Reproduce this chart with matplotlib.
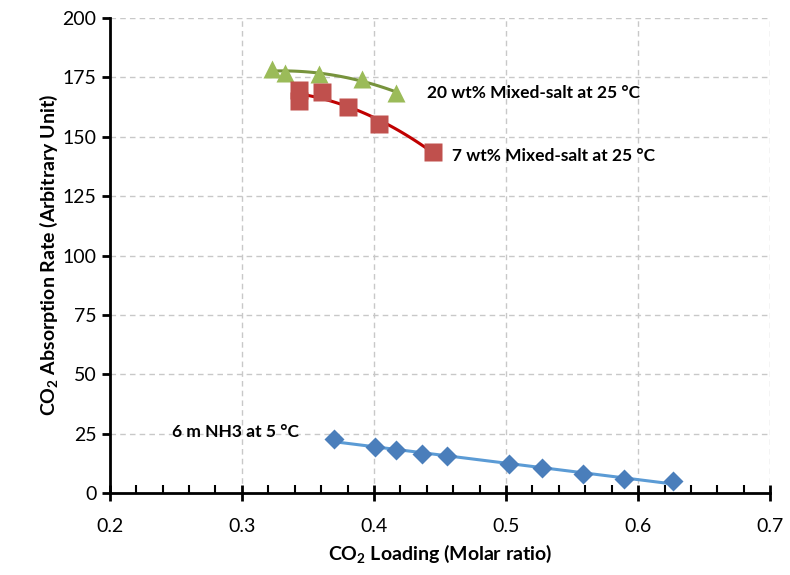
import numpy as np
import matplotlib
matplotlib.use("Agg")
import matplotlib.pyplot as plt
from matplotlib.ticker import MultipleLocator

plt.rcParams['font.family'] = ['Lato', 'DejaVu Sans']
plt.rcParams['mathtext.fontset'] = 'custom'
plt.rcParams['mathtext.rm'] = 'Lato'
plt.rcParams['mathtext.bf'] = 'Lato:bold'
plt.rcParams['mathtext.default'] = 'bf'

# 20 wt% mixed-salt at 25 C
salt20_x = [0.323, 0.333, 0.358, 0.391, 0.417]
salt20_y = [178.5, 176.8, 176.4, 174.3, 168.4]
# 7 wt% mixed-salt at 25 C
salt7_x = [0.343, 0.343, 0.361, 0.380, 0.404, 0.445]
salt7_y = [169.5, 165.0, 169.0, 162.5, 155.4, 143.6]
# 6 m NH3 at 5 C
nh3_x = [0.370, 0.401, 0.417, 0.436, 0.455, 0.502, 0.527, 0.558, 0.589, 0.626]
nh3_y = [22.7, 19.4, 18.1, 16.4, 15.6, 12.2, 10.5, 8.0, 5.9, 5.1]

fig = plt.figure(figsize=(7.9, 5.75), dpi=100)
ax = fig.add_axes([0.139, 0.1426, 0.836, 0.8261])

def trend(x, y, deg):
    c = np.polyfit(x, y, deg)
    xs = np.linspace(min(x), max(x), 100)
    return xs, np.polyval(c, xs)

xs, ys = trend(salt20_x, salt20_y, 2)
ax.plot(xs, ys, color='#77933C', lw=2.2, zorder=2)
ax.plot(salt20_x, salt20_y, '^', color='#9BBB59', ms=13, mec='none', zorder=3)

xs, ys = trend(salt7_x, salt7_y, 2)
ax.plot(xs, ys, color='#C00000', lw=2.2, zorder=2)
ax.plot(salt7_x, salt7_y, 's', color='#C0504D', ms=13, mec='none', zorder=3)

xs, ys = trend(nh3_x, nh3_y, 1)
ax.plot(xs, ys, color='#5B9BD5', lw=2.2, zorder=2)
ax.plot(nh3_x, nh3_y, 'D', color='#4A7EBB', ms=10, mec='none', zorder=3)

ax.text(0.44, 168.4, '20 wt% Mixed-salt at 25 °C', fontsize=12.5, fontweight='bold', va='center')
ax.text(0.459, 141.9, '7 wt% Mixed-salt at 25 °C', fontsize=12.5, fontweight='bold', va='center')
ax.text(0.247, 25.7, '6 m NH3 at 5 °C', fontsize=12.5, fontweight='bold', va='center')

ax.set_xlim(0.2, 0.7)
ax.set_ylim(0, 200)
ax.xaxis.set_major_locator(MultipleLocator(0.1))
ax.xaxis.set_minor_locator(MultipleLocator(0.02))
ax.yaxis.set_major_locator(MultipleLocator(25))
ax.set_xticks([0.2, 0.3, 0.4, 0.5, 0.6, 0.7])
ax.set_xticklabels(['0.2', '0.3', '0.4', '0.5', '0.6', '0.7'])

for s in ['top', 'right']:
    ax.spines[s].set_visible(False)
for s in ['left', 'bottom']:
    ax.spines[s].set_linewidth(2)
ax.tick_params(axis='x', which='major', direction='inout', length=12, width=2, labelsize=14, pad=12)
ax.tick_params(axis='x', which='minor', direction='in', length=6, width=1.5)
ax.tick_params(axis='y', which='major', direction='out', length=6, width=2, labelsize=14)
ax.grid(True, which='major', ls=(0, (4, 3)), color='#C8C8C8', lw=1)
ax.set_axisbelow(True)

ax.set_xlabel(r'CO$_2$ Loading (Molar ratio)', fontsize=14, fontweight='bold', labelpad=6)
ax.set_ylabel(r'CO$_2$ Absorption Rate (Arbitrary Unit)', fontsize=14, fontweight='bold', labelpad=2)

fig.savefig('out.png', dpi=100)
